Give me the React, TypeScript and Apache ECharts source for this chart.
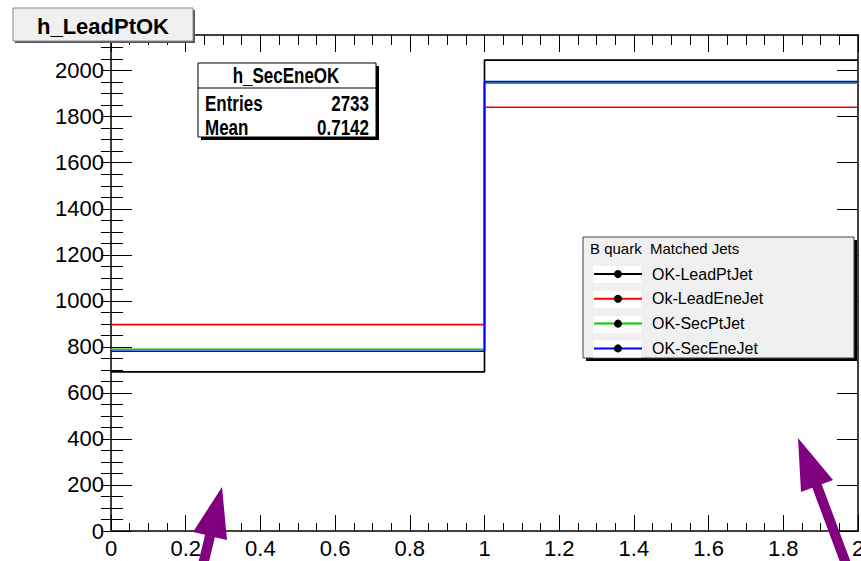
import React, { useEffect, useRef } from "react";
import * as echarts from "echarts";

const binEdges = [0, 1, 2];
const seriesNames = ["OK-LeadPtJet", "Ok-LeadEneJet", "OK-SecPtJet", "OK-SecEneJet"];
const seriesColors = ["#000000", "#ff0000", "#00cc00", "#0000ff"];
const leadPtJet = [691, 2046];
const leadEneJet = [897, 1841];
const secPtJet = [789, 1946];
const secEneJet = [781, 1952];
const seriesValues = [leadPtJet, leadEneJet, secPtJet, secEneJet];
const histTitle = "h_LeadPtOK";
const statsTitle = "h_SecEneOK";
const statsRows = [
  ["Entries", "2733"],
  ["Mean", "0.7142"],
];
const legendHeader = "B quark  Matched Jets";

const SANS = "'Liberation Sans', Arial, Helvetica, sans-serif";

function stepData(vals: number[]) {
  const out: number[][] = [];
  vals.forEach((v, i) => {
    out.push([binEdges[i], v]);
    out.push([binEdges[i + 1], v]);
  });
  return out;
}

export default function App() {
  const ref = useRef<HTMLDivElement>(null);
  useEffect(() => {
    if (!ref.current) return;
    const chart = echarts.init(ref.current, undefined, { renderer: "svg" });
    const yMax = 2155;
    const baseY = {
      type: "value" as const,
      min: 0,
      max: yMax,
      splitLine: { show: false },
    };
    const arrow1 = [
      [222, 487], [227, 540], [214.9, 537.2], [206.6, 571.2], [196.8, 568.8], [205.1, 534.8], [193, 532],
    ];
    const arrow2 = [
      [798, 438], [833, 480], [821.7, 484.3], [854.9, 573.3], [845.5, 576.8], [812.3, 487.8], [801, 492],
    ];
    const rowYs = [274, 299, 324, 348.5];
    const statsText = (text: string, x: number, y: number, align: string) => ({
      type: "text", z: 52, x, y, scaleY: 1.25,
      style: { text, fontSize: 17, fontWeight: "bold", fontFamily: SANS, fill: "#000", align, verticalAlign: "middle" },
    });
    chart.setOption({
      animation: false,
      backgroundColor: "#ffffff",
      grid: { left: 111, right: 3, top: 35, bottom: 30, containLabel: false, outerBoundsMode: "none" },
      xAxis: [
        {
          type: "value",
          position: "bottom",
          min: 0,
          max: 2,
          interval: 0.2,
          axisLine: { show: true, onZero: false, lineStyle: { color: "#000", width: 1.5 } },
          axisTick: { show: true, inside: true, length: 16, lineStyle: { color: "#000", width: 1 } },
          minorTick: { show: true, splitNumber: 4, length: 8, lineStyle: { color: "#000", width: 1 } },
          axisLabel: {
            fontSize: 22, lineHeight: 22, fontFamily: SANS, color: "#000", margin: 6,
            formatter: (v: number) => String(Math.round(v * 10) / 10),
          },
          splitLine: { show: false },
          minorSplitLine: { show: false },
        },
        {
          type: "value",
          position: "top",
          min: 0,
          max: 2,
          interval: 0.2,
          axisLine: { show: true, onZero: false, lineStyle: { color: "#000", width: 1.5 } },
          axisTick: { show: true, inside: true, length: 17, lineStyle: { color: "#000", width: 1 } },
          minorTick: { show: true, splitNumber: 4, length: 10, lineStyle: { color: "#000", width: 1 } },
          axisLabel: { show: false },
          splitLine: { show: false },
        },
      ],
      yAxis: [
        {
          ...baseY,
          position: "left",
          interval: 200,
          axisLine: { show: true, onZero: false, lineStyle: { color: "#000", width: 1.5 } },
          axisTick: { show: true, inside: true, length: 21, lineStyle: { color: "#000", width: 1 } },
          axisLabel: {
            fontSize: 22, fontFamily: SANS, color: "#000", margin: 7, showMaxLabel: false,
            formatter: (v: number) => String(Math.round(v)),
          },
        },
        {
          ...baseY,
          position: "left",
          interval: 50,
          axisLine: { show: false },
          axisTick: { show: true, inside: true, length: 12, lineStyle: { color: "#000", width: 1 } },
          axisLabel: { show: false },
        },
        {
          ...baseY,
          position: "right",
          interval: 200,
          axisLine: { show: true, onZero: false, lineStyle: { color: "#000", width: 1.5 } },
          axisTick: { show: true, inside: true, length: 21, lineStyle: { color: "#000", width: 1 } },
          axisLabel: { show: false },
        },
        {
          ...baseY,
          position: "right",
          interval: 50,
          axisLine: { show: false },
          axisTick: { show: true, inside: true, length: 10, lineStyle: { color: "#000", width: 1 } },
          axisLabel: { show: false },
        },
      ],
      legend: {
        show: true,
        orient: "vertical",
        left: 593,
        top: rowYs[0] - 10,
        padding: 0,
        itemWidth: 48,
        itemHeight: 10,
        itemGap: 4.8,
        z: 20,
        data: seriesNames,
        textStyle: { fontSize: 16, fontFamily: SANS, color: "#000", lineHeight: 20, padding: [0, 0, 0, 5] },
        selectedMode: false,
      },
      series: seriesNames.map((name, i) => ({
        name,
        type: "line",
        xAxisIndex: 0,
        yAxisIndex: 0,
        data: stepData(seriesValues[i]),
        symbol: "circle",
        symbolSize: 7,
        showSymbol: false,
        itemStyle: { color: "#000" },
        lineStyle: { color: seriesColors[i], width: 1.7 },
        silent: true,
        z: 2 + i,
      })),
      graphic: [
        // title box
        { type: "rect", z: 50, shape: { x: 15, y: 10, width: 180, height: 33 }, style: { fill: "#555" } },
        { type: "rect", z: 51, shape: { x: 13, y: 8, width: 180, height: 33 }, style: { fill: "#f0f0f0", stroke: "#888", lineWidth: 1 } },
        {
          type: "text", z: 52, x: 103, y: 26,
          style: { text: histTitle, fontSize: 22, fontWeight: "bold", fontFamily: SANS, fill: "#000", align: "center", verticalAlign: "middle" },
        },
        // stats box
        { type: "rect", z: 50, shape: { x: 201, y: 66, width: 178, height: 74 }, style: { fill: "#000" } },
        { type: "rect", z: 51, shape: { x: 198, y: 63, width: 178, height: 74 }, style: { fill: "#ffffff", stroke: "#000", lineWidth: 1 } },
        { type: "line", z: 52, shape: { x1: 198, y1: 88, x2: 376, y2: 88 }, style: { stroke: "#000", lineWidth: 1 } },
        statsText(statsTitle, 286, 76, "center"),
        ...statsRows.flatMap((r, i) => [
          statsText(r[0], 205, 104 + i * 24, "left"),
          statsText(r[1], 369, 104 + i * 24, "right"),
        ]),
        // legend box
        { type: "rect", z: 10, shape: { x: 586, y: 240, width: 271, height: 121 }, style: { fill: "#000" } },
        { type: "rect", z: 11, shape: { x: 583, y: 237, width: 271, height: 121 }, style: { fill: "#f0f0f0", stroke: "#444", lineWidth: 1 } },
        {
          type: "text", z: 12, x: 590, y: 248,
          style: { text: legendHeader, fontSize: 15, fontFamily: SANS, fill: "#000", align: "left", verticalAlign: "middle" },
        },
        ...rowYs.map((y) => ({
          type: "rect", z: 12, shape: { x: 593, y: y - 8, width: 48, height: 17 }, style: { fill: "#ffffff" },
        })),
        // arrows
        { type: "polygon", z: 100, shape: { points: arrow1 }, style: { fill: "#800080" } },
        { type: "polygon", z: 100, shape: { points: arrow2 }, style: { fill: "#800080" } },
      ],
    });
    return () => chart.dispose();
  }, []);
  return (
    <div
      ref={ref}
      style={{ position: "fixed", left: 0, top: 0, width: 861, height: 561, background: "#fff" }}
    />
  );
}
